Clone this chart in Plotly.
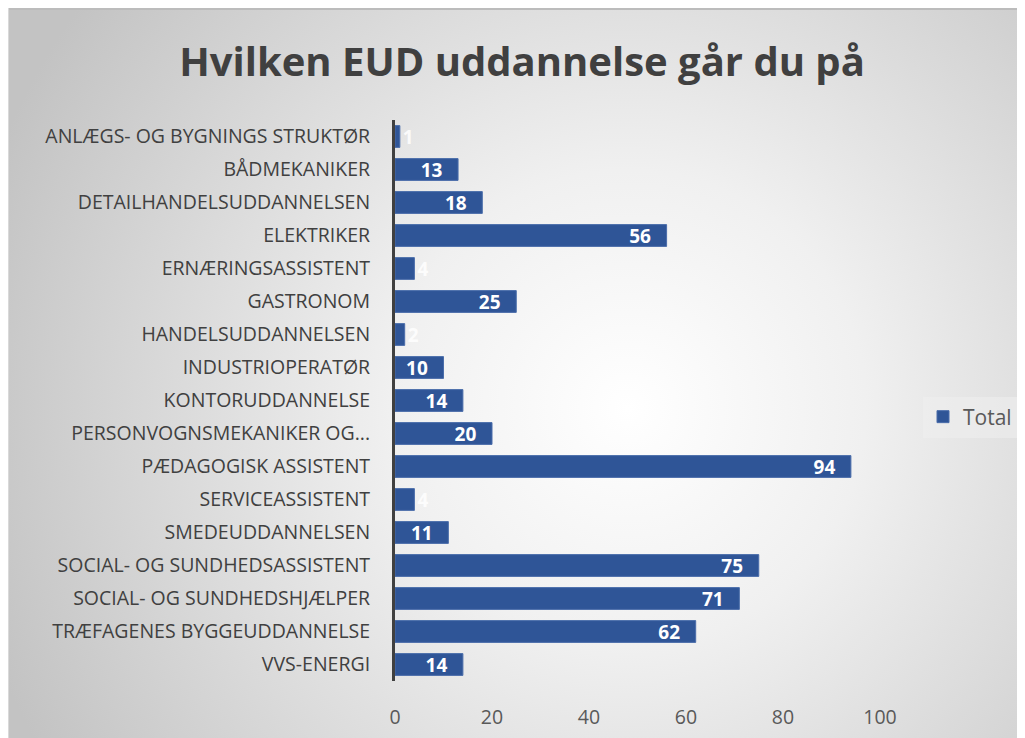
import plotly.graph_objects as go
import urllib.parse

categories = [
    "ANLÆGS- OG BYGNINGS STRUKTØR",
    "BÅDMEKANIKER",
    "DETAILHANDELSUDDANNELSEN",
    "ELEKTRIKER",
    "ERNÆRINGSASSISTENT",
    "GASTRONOM",
    "HANDELSUDDANNELSEN",
    "INDUSTRIOPERATØR",
    "KONTORUDDANNELSE",
    "PERSONVOGNSMEKANIKER OG...",
    "PÆDAGOGISK ASSISTENT",
    "SERVICEASSISTENT",
    "SMEDEUDDANNELSEN",
    "SOCIAL- OG SUNDHEDSASSISTENT",
    "SOCIAL- OG SUNDHEDSHJÆLPER",
    "TRÆFAGENES BYGGEUDDANNELSE",
    "VVS-ENERGI",
]
values = [1, 13, 18, 56, 4, 25, 2, 10, 14, 20, 94, 4, 11, 75, 71, 62, 14]
series_name = "Total"
x_ticks = [0, 20, 40, 60, 80, 100]

W, H = 1017, 730
L, R, T, B = 387, 145, 112, 57
pw, ph = W - L - R, H - T - B

# background radial gradient covering the whole chart area
svg = (
    f'<svg xmlns="http://www.w3.org/2000/svg" width="{W}" height="{H}" '
    f'viewBox="0 0 {W} {H}" preserveAspectRatio="none">'
    '<defs><radialGradient id="g" gradientUnits="userSpaceOnUse" '
    'cx="620" cy="400" r="680">'
    '<stop offset="0" stop-color="#ffffff"/>'
    '<stop offset="0.35" stop-color="#f0f0f0"/>'
    '<stop offset="1" stop-color="#c3c3c3"/>'
    '</radialGradient></defs>'
    f'<rect x="0" y="0" width="{W}" height="{H}" fill="url(#g)"/>'
    f'<line x1="0" y1="1" x2="{W}" y2="1" stroke="#bcbcbc" stroke-width="2"/>'
    f'<line x1="0.5" y1="0" x2="0.5" y2="{H}" stroke="#d9d9d9" stroke-width="1"/>'
    '</svg>'
)
src = "data:image/svg+xml;charset=utf-8," + urllib.parse.quote(svg)

# labels that do not fit inside the bar spill past its end (white on light bg)
text_positions = ["inside" if v >= 5 else "outside" for v in values]

fig = go.Figure()
fig.add_trace(go.Bar(
    y=categories,
    x=values,
    orientation="h",
    name=series_name,
    marker=dict(color="#2F5597", line=dict(color="#4A6DAA", width=1)),
    text=values,
    texttemplate="%{x}\u2002\u2009",
    textposition=text_positions,
    insidetextanchor="end",
    textangle=0,
    constraintext="none",
    textfont=dict(family="Open Sans", size=19, color="white", weight="bold"),
    outsidetextfont=dict(family="Open Sans", size=19, color="rgba(255,255,255,0.85)", weight="bold"),
    cliponaxis=False,
    width=0.66,
))

fig.update_layout(
    width=W, height=H,
    margin=dict(l=L, r=R, t=T, b=B, autoexpand=False),
    paper_bgcolor="#d8d8d8",
    plot_bgcolor="rgba(0,0,0,0)",
    title=dict(
        text="<b>Hvilken EUD uddannelse går du på</b>",
        x=514 / W, xanchor="center",
        y=1 - 54 / H, yanchor="middle", yref="container",
        font=dict(family="Open Sans", size=40, color="#404040"),
    ),
    showlegend=True,
    legend=dict(
        x=(915 - L) / pw, xanchor="left",
        y=(H - B - 409) / ph, yanchor="middle",
        bgcolor="rgba(238,238,238,0.6)",
        font=dict(family="Open Sans", size=21, color="#595959"),
        itemwidth=30,
    ),
    images=[dict(
        source=src, xref="paper", yref="paper",
        x=-L / pw, y=1 + T / ph,
        sizex=W / pw, sizey=H / ph,
        xanchor="left", yanchor="top",
        sizing="stretch", layer="below",
    )],
    xaxis=dict(
        range=[0, 100], tickvals=x_ticks,
        showgrid=False, zeroline=False, showline=False,
        ticks="", ticklabelstandoff=22,
        tickfont=dict(family="Open Sans", size=19.5, color="#595959"),
    ),
    yaxis=dict(
        autorange="reversed",
        showgrid=False, zeroline=False,
        showline=True, linecolor="#404040", linewidth=3,
        ticks="", ticklabelstandoff=18,
        tickfont=dict(family="Open Sans", size=19.5, color="#404040"),
    ),
    bargap=0.34,
)

fig.write_html("out.html")
